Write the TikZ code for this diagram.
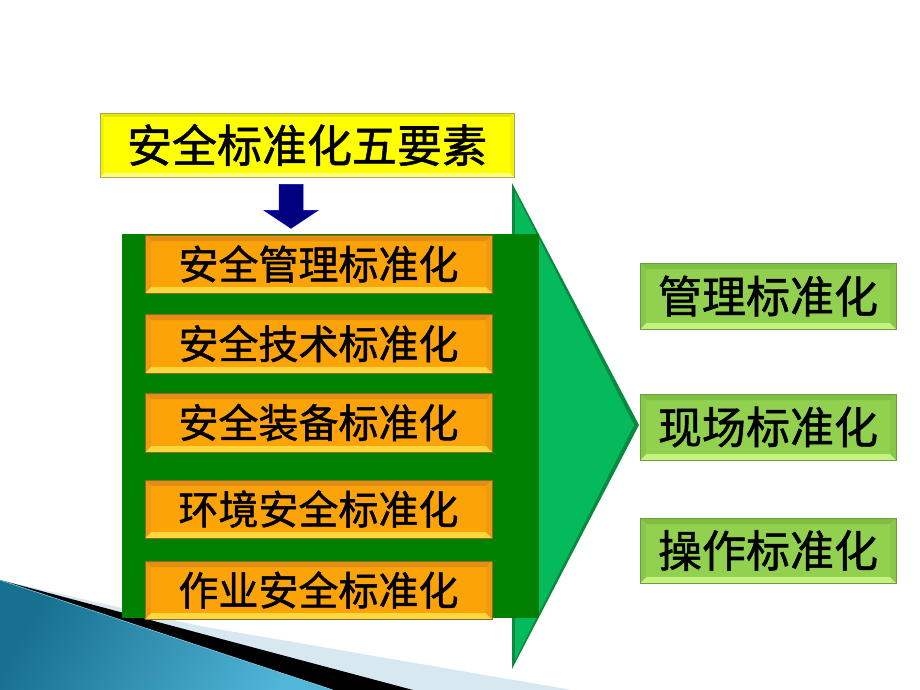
\documentclass[tikz,border=0pt]{standalone}
\usepackage{fontspec}
\newfontfamily\cjk{Noto Sans CJK SC}[FakeBold=1.2]
\usetikzlibrary{calc}
\definecolor{ylwmain}{HTML}{FFFF00}
\definecolor{ylwtop}{HTML}{E6E600}
\definecolor{ylwbot}{HTML}{FFFF80}
\definecolor{ylwside}{HTML}{F2F200}
\definecolor{ylwedge}{HTML}{A8A860}
\definecolor{ormain}{HTML}{FCA308}
\definecolor{ortop}{HTML}{E38D12}
\definecolor{orbot}{HTML}{FFD63C}
\definecolor{orside}{HTML}{F19A10}
\definecolor{oredge}{HTML}{8C6A28}
\definecolor{grmain}{HTML}{92D050}
\definecolor{grtop}{HTML}{7FC040}
\definecolor{grbot}{HTML}{C4F27E}
\definecolor{grside}{HTML}{88C848}
\definecolor{gredge}{HTML}{6E9A48}
\definecolor{darkgr}{HTML}{008000}
\definecolor{trigr}{HTML}{05BA5A}
\definecolor{triedge}{HTML}{0A8A40}
\definecolor{navy}{HTML}{000080}
\definecolor{paleblue}{HTML}{D8E8F0}
\definecolor{tealdark}{HTML}{17708F}
\definecolor{teallight}{HTML}{52B6D8}
\tikzset{
  boxtext/.style={font=\cjk, inner sep=0pt, text=black},
}
% \bevelbox{name}{x1}{y1}{x2}{y2}{prefix}{bevel}{fontsize}{text}
\newcommand{\bevelbox}[9]{%
  \fill[#6main] (#2,#3) rectangle (#4,#5);
  \fill[#6top] (#2,#3) -- (#4,#3) -- ($(#4,#3)+(-#7,#7)$) -- ($(#2,#3)+(#7,#7)$) -- cycle;
  \fill[#6bot] (#2,#5) -- (#4,#5) -- ($(#4,#5)+(-#7,-#7)$) -- ($(#2,#5)+(#7,-#7)$) -- cycle;
  \fill[#6side] (#2,#3) -- ($(#2,#3)+(#7,#7)$) -- ($(#2,#5)+(#7,-#7)$) -- (#2,#5) -- cycle;
  \fill[#6side] (#4,#3) -- ($(#4,#3)+(-#7,#7)$) -- ($(#4,#5)+(-#7,-#7)$) -- (#4,#5) -- cycle;
  \node[boxtext, draw=#6edge, line width=0.8pt, minimum width={(#4-#2)*1pt}, minimum height={(#5-#3)*1pt},
        font=\cjk\fontsize{#8}{#8}\selectfont] (#1) at ({(#2+#4)/2},{(#3+#5)/2}) {#9};
}
\begin{document}
\begin{tikzpicture}[x=1pt,y=-1pt]
\useasboundingbox (0,0) rectangle (920,690);
\fill[white] (0,0) rectangle (920,690);
% bottom-left decoration
\fill[paleblue] (0,580) -- (200,626) -- (572,690) -- (0,690) -- cycle;
\fill[black] (0,580) -- (413,690) -- (0,690) -- cycle;
\shade[left color=tealdark, right color=teallight, shading angle=60] (0,580) -- (333,690) -- (0,690) -- cycle;
\draw[teallight!70!white, line width=0.6pt] (0,580) -- (333,690);
% big triangle
\fill[triedge] (512,183) -- (639,425) -- (512,669) -- cycle;
\fill[trigr] (515,192) -- (634,425) -- (515,660) -- cycle;
% dark green panel
\fill[darkgr] (122,234) rectangle (539,618);
% title
\bevelbox{title}{100}{113}{514}{177}{ylw}{4}{45}{安全标准化五要素}
% arrow
\fill[navy, draw=blue!60!navy, line width=0.5pt] ($(title.south)+(-28,7)$) -- ($(title.south)+(-4,7)$) -- ($(title.south)+(-4,33)$)
  -- ($(title.south)+(11,33)$) -- ($(title.south)+(-16,51)$) -- ($(title.south)+(-43,33)$)
  -- ($(title.south)+(-28,33)$) -- cycle;
% orange boxes
\bevelbox{a1}{145}{235}{492}{293}{or}{6}{40}{安全管理标准化}
\bevelbox{a2}{145}{314}{492}{373}{or}{6}{40}{安全技术标准化}
\bevelbox{a3}{145}{393}{492}{452}{or}{6}{40}{安全装备标准化}
\bevelbox{a4}{145}{480}{492}{538}{or}{6}{40}{环境安全标准化}
\bevelbox{a5}{145}{561}{492}{619}{or}{6}{40}{作业安全标准化}
% green boxes
\bevelbox{b1}{640}{263}{896}{329}{gr}{6}{44}{管理标准化}
\bevelbox{b2}{640}{394}{896}{460}{gr}{6}{44}{现场标准化}
\bevelbox{b3}{640}{518}{896}{583}{gr}{6}{44}{操作标准化}
\end{tikzpicture}
\end{document}
